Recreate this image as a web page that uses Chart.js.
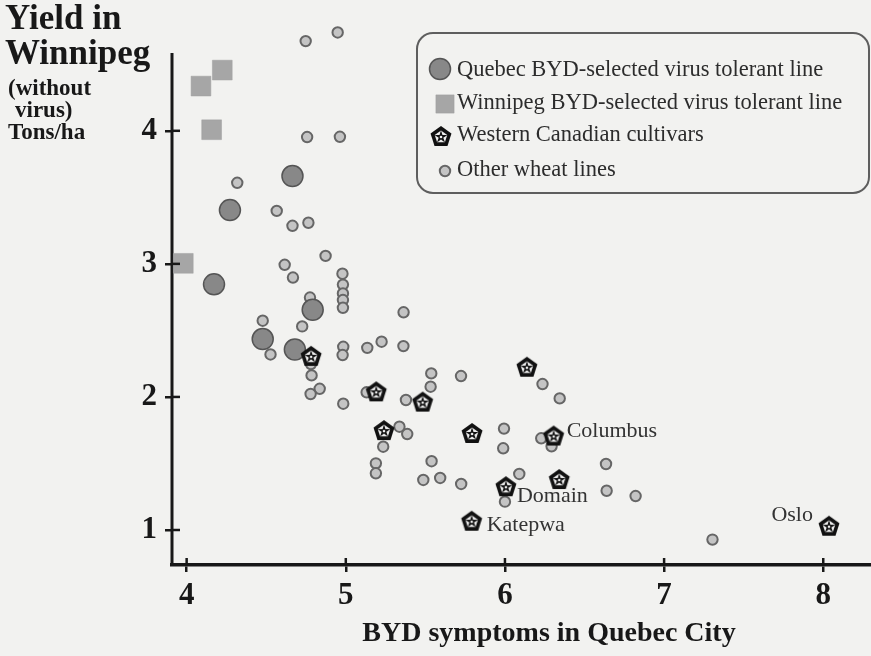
<!DOCTYPE html>
<html><head><meta charset="utf-8">
<script src="https://cdn.jsdelivr.net/npm/chart.js@4"></script>
<style>
html,body{margin:0;padding:0;background:#f2f2f0;}
#wrap{width:871px;height:656px;position:relative;overflow:hidden;}
canvas{display:block;}
</style></head><body>
<div id="wrap"><canvas id="c" width="871" height="656"></canvas></div>
<script>
// ---- data ----
const xTicks = [4, 5, 6, 7, 8];
const yTicks = [1, 2, 3, 4];
const yAxisTop = 4.584;

const quebecX = [4.665, 4.272, 4.172, 4.792, 4.478, 4.680];
const quebecY = [3.660, 3.404, 2.846, 2.655, 2.435, 2.356];

const winnipegX = [4.224, 4.090, 4.157, 3.979];
const winnipegY = [4.456, 4.336, 4.008, 3.004];

const cultivarX = [4.782, 5.191, 5.483, 5.240, 6.138, 5.793, 6.306, 6.341, 6.006, 5.791, 8.036];
const cultivarY = [2.309, 2.042, 1.965, 1.751, 2.227, 1.729, 1.710, 1.383, 1.329, 1.070, 1.032];
const cultivarNames = ['', '', '', '', '', '', 'Columbus', '', 'Domain', 'Katepwa', 'Oslo'];

const otherX = [4.748, 4.949, 4.757, 4.963, 4.318, 4.566, 4.665, 4.765, 4.873, 4.616,
  4.668, 4.979, 4.982, 4.982, 4.982, 4.982, 4.775, 4.726, 4.478, 4.527,
  4.781, 4.785, 4.836, 4.779, 4.984, 4.980, 5.135, 5.225, 5.363, 5.362,
  5.537, 5.533, 5.724, 5.131, 5.378, 4.984, 5.337, 5.386, 5.235, 5.189,
  5.189, 5.539, 5.487, 5.593, 5.725, 6.236, 6.344, 5.994, 5.989, 6.228,
  6.293, 6.090, 6.635, 6.639, 6.821, 6.000, 7.304];
const otherY = [4.674, 4.739, 3.953, 3.955, 3.609, 3.398, 3.286, 3.309, 3.060, 2.993,
  2.897, 2.926, 2.844, 2.778, 2.728, 2.670, 2.747, 2.530, 2.573, 2.319,
  2.247, 2.162, 2.061, 2.022, 2.377, 2.315, 2.369, 2.415, 2.636, 2.382,
  2.177, 2.077, 2.157, 2.035, 1.977, 1.949, 1.776, 1.721, 1.626, 1.501,
  1.426, 1.517, 1.376, 1.391, 1.346, 2.097, 1.989, 1.762, 1.614, 1.689,
  1.629, 1.421, 1.496, 1.295, 1.255, 1.213, 0.928];

const seriesNames = ['Western Canadian cultivars', 'Quebec BYD-selected virus tolerant line',
  'Winnipeg BYD-selected virus tolerant line', 'Other wheat lines'];
const legendOrder = [1, 2, 0, 3];
const yTitleLines = ['Yield in', 'Winnipeg', '(without', 'virus)', 'Tons/ha'];
const xTitle = 'BYD symptoms in Quebec City';

const pts = (xs, ys) => xs.map((x, i) => ({x: x, y: ys[i]}));

// ---- styles ----
const SERIF = '"Liberation Serif", "DejaVu Serif", serif';
const INK = '#181818';

function makePentagon(R) {
  const s = Math.ceil(R * 2 + 4);
  const c = document.createElement('canvas');
  c.width = s; c.height = s;
  const g = c.getContext('2d');
  const cx = s / 2, cy = s / 2 + 1;
  function poly(r) {
    g.beginPath();
    for (let i = 0; i < 5; i++) {
      const a = -Math.PI / 2 + i * 2 * Math.PI / 5;
      g.lineTo(cx + r * Math.cos(a), cy + r * Math.sin(a));
    }
    g.closePath();
  }
  poly(R); g.fillStyle = '#111'; g.fill();
  poly(R * 0.6); g.fillStyle = '#eeeeee'; g.fill();
  g.beginPath();
  for (let i = 0; i < 10; i++) {
    const r = (i % 2) ? R * 0.22 : R * 0.62;
    const a = -Math.PI / 2 + i * Math.PI / 5;
    g.lineTo(cx + r * Math.cos(a), cy + r * Math.sin(a));
  }
  g.closePath(); g.fillStyle = '#111'; g.fill();
  g.beginPath(); g.arc(cx, cy, R * 0.12, 0, Math.PI * 2); g.fillStyle = '#eeeeee'; g.fill();
  return c;
}
const pentImg = makePentagon(11);

const styles = [
  {pointStyle: pentImg, radius: 11},
  {pointStyle: 'circle', radius: 10.5, backgroundColor: '#888888', borderColor: '#555555', borderWidth: 1.5},
  {pointStyle: 'rect', radius: 14, backgroundColor: '#a6a6a6', borderColor: '#a0a0a0', borderWidth: 0.5},
  {pointStyle: 'circle', radius: 5.2, backgroundColor: '#c4c4c4', borderColor: '#666666', borderWidth: 2}
];

const datasets = [
  pts(cultivarX, cultivarY), pts(quebecX, quebecY), pts(winnipegX, winnipegY), pts(otherX, otherY)
].map((d, i) => Object.assign({
  label: seriesNames[i], data: d, showLine: false, clip: false,
  pointRadius: styles[i].radius, pointHoverRadius: styles[i].radius,
  pointStyle: styles[i].pointStyle,
  pointBackgroundColor: styles[i].backgroundColor || '#000',
  pointBorderColor: styles[i].borderColor || '#000',
  pointBorderWidth: styles[i].borderWidth || 0
}));

function drawSymbol(ctx, i, x, y) {
  const s = styles[i];
  if (s.pointStyle instanceof HTMLCanvasElement) {
    ctx.drawImage(s.pointStyle, x - s.pointStyle.width / 2, y - s.pointStyle.height / 2);
    return;
  }
  ctx.beginPath();
  if (s.pointStyle === 'rect') {
    const h = s.radius * Math.SQRT1_2 * 0.92;
    ctx.rect(x - h, y - h, 2 * h, 2 * h);
  } else {
    ctx.arc(x, y, s.radius, 0, Math.PI * 2);
  }
  ctx.fillStyle = s.backgroundColor; ctx.fill();
  ctx.lineWidth = s.borderWidth; ctx.strokeStyle = s.borderColor; ctx.stroke();
}

const decor = {
  id: 'decor',
  beforeDatasetsDraw(chart) {
    const ctx = chart.ctx;
    const ys = chart.scales.y;
    const a = chart.chartArea;
    ctx.save();
    ctx.strokeStyle = INK; ctx.lineWidth = 3;
    ctx.beginPath();
    ctx.moveTo(a.left, ys.getPixelForValue(yAxisTop));
    ctx.lineTo(a.left, a.bottom + 1);
    ctx.stroke();
    ctx.restore();
  },
  afterDatasetsDraw(chart) {
    const ctx = chart.ctx;
    const xs = chart.scales.x, ys = chart.scales.y;
    ctx.save();
    ctx.strokeStyle = INK; ctx.lineWidth = 2.5;
    xTicks.forEach(v => {
      const p = xs.getPixelForValue(v);
      ctx.beginPath(); ctx.moveTo(p, chart.chartArea.bottom); ctx.lineTo(p, chart.chartArea.bottom - 7); ctx.stroke();
    });
    yTicks.forEach(v => {
      const p = ys.getPixelForValue(v);
      ctx.beginPath(); ctx.moveTo(chart.chartArea.left, p); ctx.lineTo(chart.chartArea.left + 8, p); ctx.stroke();
    });
    ctx.fillStyle = INK; ctx.textBaseline = 'middle'; ctx.textAlign = 'left';
    const yl = [[5, 20, 35], [5, 55, 35], [8, 89, 23], [15, 111, 23], [8, 133, 23]];
    yTitleLines.forEach((t, i) => {
      ctx.font = 'bold ' + yl[i][2] + 'px ' + SERIF;
      ctx.fillText(t, yl[i][0], yl[i][1]);
    });
    ctx.font = 'bold 28px ' + SERIF; ctx.textAlign = 'center';
    ctx.fillText(xTitle, 549, 634);
    ctx.font = '22px ' + SERIF; ctx.fillStyle = '#333';
    const meta = chart.getDatasetMeta(0);
    cultivarNames.forEach((n, i) => {
      if (!n) return;
      const el = meta.data[i];
      if (n === 'Oslo') {
        ctx.textAlign = 'right'; ctx.fillText(n, el.x - 16, el.y - 11);
      } else if (n === 'Columbus') {
        ctx.textAlign = 'left'; ctx.fillText(n, el.x + 13, el.y - 4);
      } else if (n === 'Domain') {
        ctx.textAlign = 'left'; ctx.fillText(n, el.x + 11, el.y + 10);
      } else {
        ctx.textAlign = 'left'; ctx.fillText(n, el.x + 15, el.y + 5);
      }
    });
    const bx = 417, by = 33, bw = 452, bh = 160, r = 16;
    ctx.beginPath();
    ctx.roundRect(bx, by, bw, bh, r);
    ctx.fillStyle = '#f2f2f0'; ctx.fill();
    ctx.lineWidth = 2; ctx.strokeStyle = '#5e5e5e'; ctx.stroke();
    const rows = [[440, 69], [445, 104], [441, 136], [445, 171]];
    const tys = [70, 103, 135, 170];
    legendOrder.forEach((di, k) => {
      drawSymbol(ctx, di, rows[k][0], rows[k][1]);
      ctx.font = '22.5px ' + SERIF; ctx.fillStyle = '#2c2c2c'; ctx.textAlign = 'left'; ctx.textBaseline = 'middle';
      ctx.fillText(seriesNames[di], 457, tys[k]);
    });
    ctx.restore();
  }
};

new Chart(document.getElementById('c'), {
  type: 'scatter',
  data: {datasets: datasets},
  options: {
    responsive: false, animation: false, devicePixelRatio: 1,
    layout: {autoPadding: false, padding: {top: 26.5, right: 0, left: 0, bottom: 0}},
    plugins: {legend: {display: false}, tooltip: {enabled: false}},
    scales: {
      x: {
        type: 'linear', min: 3.908, max: 8.30,
        afterBuildTicks: s => { s.ticks = xTicks.map(v => ({value: v})); },
        afterFit: s => { s.height = 91; },
        grid: {drawOnChartArea: false, drawTicks: true, tickLength: 7, color: INK, lineWidth: 2.5},
        border: {display: true, color: INK, width: 3.5},
        ticks: {font: {family: SERIF, size: 31, weight: 'bold'}, color: INK, padding: 5, maxRotation: 0}
      },
      y: {
        type: 'linear', min: 0.737, max: 4.783,
        afterBuildTicks: s => { s.ticks = yTicks.map(v => ({value: v})); },
        afterFit: s => { s.width = 172; },
        grid: {drawOnChartArea: false, drawTicks: true, tickLength: 7, color: INK, lineWidth: 2.5},
        border: {display: false},
        ticks: {font: {family: SERIF, size: 31, weight: 'bold'}, color: INK, padding: 8}
      }
    }
  },
  plugins: [decor]
});
</script>
</body></html>
